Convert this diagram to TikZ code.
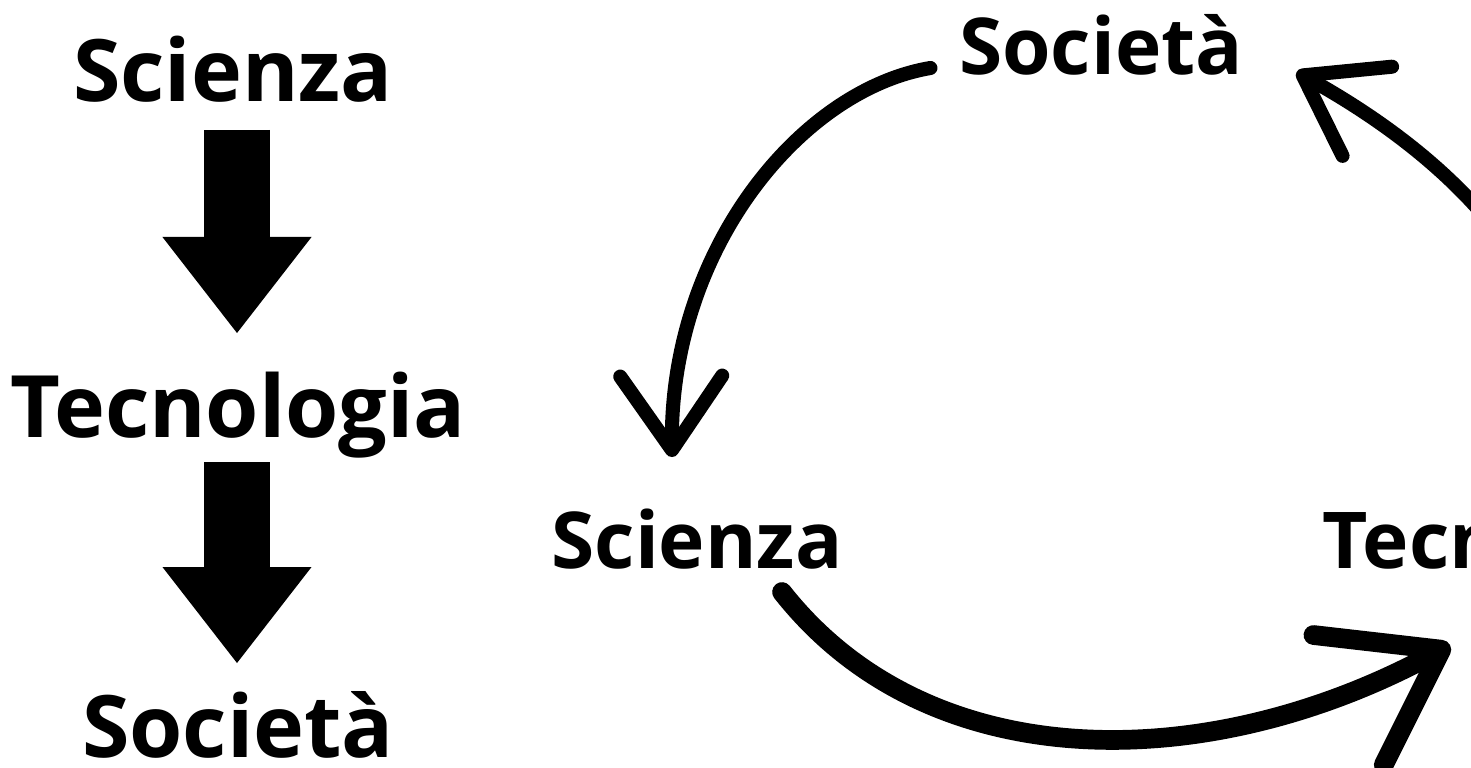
\documentclass[tikz,border=0pt]{standalone}
\usepackage{fontspec}
\setmainfont{Open Sans}
\usepackage{tikz}
\usetikzlibrary{arrows.meta,calc}

\begin{document}
\begin{tikzpicture}[x=0.01cm,y=-0.01cm,
    big/.style={font=\bfseries\fontsize{24.5}{29}\selectfont,inner sep=0pt,anchor=base},
    small/.style={font=\bfseries\fontsize{22.3}{27}\selectfont,inner sep=0pt,anchor=base},
    block/.style={line width=18.5pt,-{Triangle[length=27.3pt,width=42.4pt,line width=0pt]}},
    loopthin/.style={line width=4pt,line cap=round,-{Straight Barb[round,length=21pt,width=29pt]}},
    loopthick/.style={line width=5.6pt,line cap=round,-{Straight Barb[round,length=30pt,width=42pt]}}]
  \useasboundingbox (0,0) rectangle (1471,767);
  \clip (0,0) rectangle (1471,767);

  % linear model
  \node[big] (sciL) at (233,102) {Scienza};
  \node[big] (tecL) at (238,437) {Tecnologia};
  \node[big] (socL) at (238,757) {Società};

  \draw[block] ($(sciL.base)+(4,28)$) -- ($(tecL.base)+(-1,-104)$);
  \draw[block] ($(tecL.base)+(-1,25)$) -- ($(socL.base)+(-1,-94)$);

  % circular model
  \node[small] (socR) at (1101,75) {Società};
  \node[small] (sciR) at (697,568) {Scienza};
  \node[small,anchor=base west] (tecR) at (1322,568) {Tecnologia};

  \draw[loopthin] ($(socR.base west)+(-28,-7)$)
        .. controls (800,90) and (670,250) .. ($(sciR.base)+(-25,-111)$);
  \draw[loopthick] ($(sciR.base)+(85,24)$)
        .. controls (930,780) and (1210,775) .. ($(tecR.base west)+(128,77)$);
  \draw[loopthin] ($(tecR.base west)+(248,-98)$)
        .. controls (1590,260) and (1410,135) .. ($(socR.base east)+(53,-3)$);
\end{tikzpicture}
\end{document}
